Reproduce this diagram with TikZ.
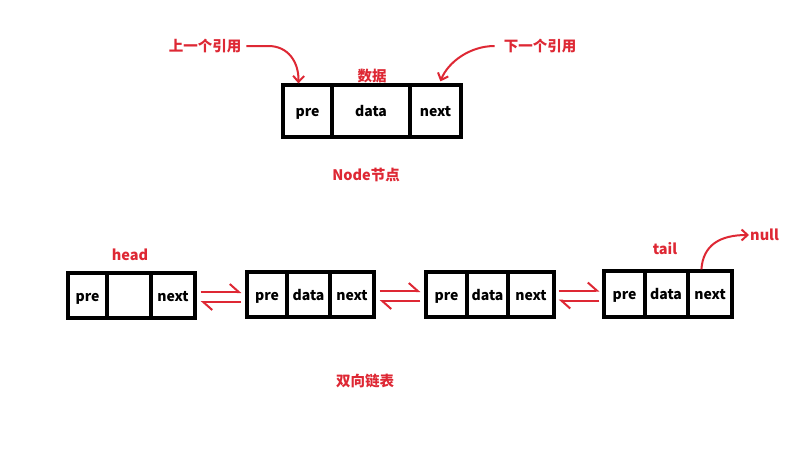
\documentclass[tikz,border=0pt]{standalone}
\usepackage{fontspec}
\setmainfont{Noto Sans CJK SC}
\usetikzlibrary{arrows.meta,calc}
\definecolor{lred}{RGB}{222,40,52}
\begin{document}
\begin{tikzpicture}[x=1pt,y=-1pt,
  cell/.style={draw=black,line width=3.2pt,inner sep=0pt,text height=11.5pt,text depth=0pt,font=\bfseries\fontsize{14}{15}\selectfont},
  lbl/.style={text=lred,font=\bfseries\fontsize{14.5}{15}\selectfont,inner sep=1pt},
  rline/.style={draw=lred,line width=2pt},
  harp/.style={rline,-{Straight Barb[left,length=9pt,width=16pt,line width=2pt]}},
  curvearr/.style={rline,-{Straight Barb[length=6pt,width=11pt,line width=2pt]}}]
\useasboundingbox (0,0) rectangle (800,450);
\fill[white] (0,0) rectangle (800,450);
% top node
\node[cell,minimum width=49pt,minimum height=52pt] (tpre) at (307.5,111) {pre};
\node[cell,minimum width=78pt,minimum height=52pt] (tdata) at (371,111) {data};
\node[cell,minimum width=51pt,minimum height=52pt] (tnext) at (435.5,111) {next};
\node[lbl] (lprev) at (205,46) {上一个引用};
\node[lbl] (lnextref) at (540,46) {下一个引用};
\node[lbl] (ldata) at (372,76) {数据};
\node[lbl] (lnode) at (366,175) {Node节点};
\coordinate (tpin) at ($(tpre.north west)+(17,0)$);
\coordinate (tnin) at ($(tnext.north west)+(32,-2)$);
\draw[curvearr] ($(lprev.east)+(4,0)$) -- ++(22,0) .. controls (288,46) and (299,62) .. (tpin);
\draw[curvearr] ($(lnextref.west)+(-8,0)$) .. controls (470,46) and (448,62) .. (tnin);
% list nodes
\node[cell,minimum width=39pt,minimum height=45pt] (a1) at (87.5,295.5) {pre};
\node[cell,minimum width=44pt,minimum height=45pt] (a2) at (129,295.5) {};
\node[cell,minimum width=44pt,minimum height=45pt] (a3) at (173,295.5) {next};
\node[cell,minimum width=40pt,minimum height=45pt] (b1) at (267,294.5) {pre};
\node[cell,minimum width=43pt,minimum height=45pt] (b2) at (308.5,294.5) {data};
\node[cell,minimum width=44pt,minimum height=45pt] (b3) at (352,294.5) {next};
\node[cell,minimum width=41pt,minimum height=45pt] (c1) at (446.5,294.5) {pre};
\node[cell,minimum width=41pt,minimum height=45pt] (c2) at (487.5,294.5) {data};
\node[cell,minimum width=46pt,minimum height=45pt] (c3) at (531,294.5) {next};
\node[cell,minimum width=41pt,minimum height=46pt] (d1) at (624.5,294) {pre};
\node[cell,minimum width=43pt,minimum height=46pt] (d2) at (666,294) {data};
\node[cell,minimum width=44pt,minimum height=46pt] (d3) at (710,294) {next};
\node[lbl] (lhead) at (130,255) {head};
\node[lbl] (ltail) at (665,249) {tail};
\node[lbl,anchor=west] (lnull) at (749,235) {null};
\node[lbl] (llist) at (365,381) {双向链表};
% harpoons
\draw[harp] ($(a3.east)+(4,-3.5)$) -- ($(b1.west)+(-4,-2.5)$);
\draw[harp] ($(b1.west)+(-4,7.5)$) -- ($(a3.east)+(4,6.5)$);
\draw[harp] ($(b3.east)+(4,-3.5)$) -- ($(c1.west)+(-4,-3.5)$);
\draw[harp] ($(c1.west)+(-4,6.5)$) -- ($(b3.east)+(4,6.5)$);
\draw[harp] ($(c3.east)+(3,-4)$) -- ($(d1.west)+(-3,-3.5)$);
\draw[harp] ($(d1.west)+(-3,6.5)$) -- ($(c3.east)+(3,6)$);
% tail -> null
\coordinate (dstart) at ($(d3.north west)+(15,0)$);
\draw[curvearr] (dstart) .. controls (703,245) and (720,235) .. (lnull.west);
\end{tikzpicture}
\end{document}
